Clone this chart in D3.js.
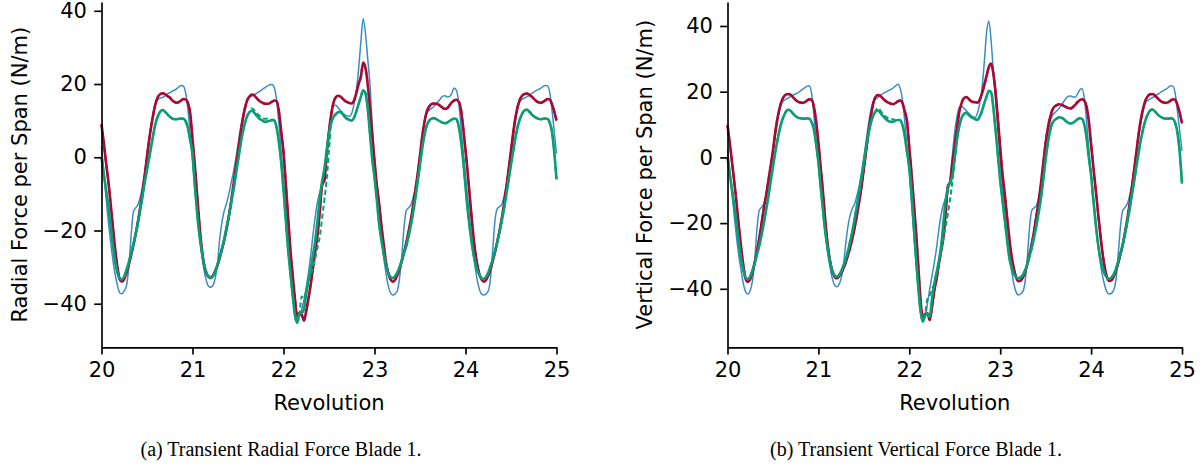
<!DOCTYPE html>
<html>
<head>
<meta charset="utf-8">
<script src="https://cdn.jsdelivr.net/npm/d3@7"></script>
<style>
  html, body { margin: 0; padding: 0; background: #ffffff; }
  svg { display: block; }
</style>
</head>
<body>
<svg id="fig" width="1203" height="466"></svg>
<script>
// ---------------- DATA ----------------
// samples every 0.025 revolution from 20 to 25 (201 samples)
const revStart = 20;
const revStep = 0.025;
const xTicks = [20, 21, 22, 23, 24, 25];
const yTicks = [-40, -20, 0, 20, 40];

// (a) Radial force per span (N/m)
const radialBlue = [
  3.0, -4.0, -11.0, -17.5, -23.0, -28.0, -32.0, -35.0, -37.0, -37.3, -36.5, -35.0, -30.0, -21.5, -15.0, -13.8, -13.0, -11.0, -8.0, -4.0, 0.5, 5.0, 9.5, 13.0, 15.2, 15.9, 16.2, 16.4, 16.8, 17.3, 17.6, 18.0, 18.3, 18.7, 19.2, 19.6, 19.4, 17.5, 13.0, 6.0,
  -1.0, -8.0, -14.5, -20.5, -26.0, -30.5, -33.5, -35.2, -35.5, -35.0, -33.0, -29.0, -22.0, -17.5, -14.5, -12.5, -10.0, -7.0, -4.0, -0.5, 3.5, 7.5, 11.0, 13.8, 15.5, 16.3, 16.8, 17.1, 17.4, 17.8, 18.2, 18.7, 19.1, 19.5, 19.8, 19.9, 18.9, 15.5, 9.0, 1.5,
  -6.0, -13.0, -21.0, -29.0, -36.0, -41.5, -44.5, -43.5, -41.5, -39.0, -35.5, -31.5, -26.5, -21.0, -16.0, -12.0, -9.5, -8.0, -5.0, 1.5, 8.0, 12.0, 14.0, 14.2, 13.5, 12.8, 12.1, 11.6, 11.3, 11.2, 12.0, 14.5, 18.0, 24.0, 31.5, 37.8, 34.0, 27.0, 20.0, 9.0,
  -1.0, -8.0, -14.5, -21.0, -27.0, -31.5, -35.0, -37.0, -37.6, -37.3, -36.5, -33.0, -27.0, -19.0, -14.5, -13.8, -13.0, -11.0, -8.0, -4.0, 1.0, 5.5, 9.5, 12.0, 12.8, 13.3, 13.8, 14.5, 15.2, 16.0, 16.7, 16.8, 16.5, 16.6, 17.5, 18.9, 18.3, 15.0, 8.5, 1.5,
  -5.0, -11.5, -18.0, -24.0, -29.0, -33.0, -35.8, -37.3, -37.6, -37.3, -36.5, -33.0, -25.0, -17.0, -14.0, -13.5, -12.8, -10.5, -7.5, -3.5, 1.0, 5.5, 10.0, 13.5, 15.3, 15.9, 16.2, 16.5, 16.9, 17.4, 17.8, 18.2, 18.5, 18.8, 19.3, 19.6, 19.5, 17.8, 13.0, 7.0,
  1.0
];
const radialRed = [
  9.0, 4.0, -1.5, -6.5, -12.5, -19.0, -25.0, -30.0, -33.3, -34.0, -33.2, -31.5, -29.3, -26.8, -24.0, -21.0, -17.6, -13.8, -9.5, -5.0, 0.2, 5.0, 9.0, 12.5, 15.2, 16.7, 17.3, 17.5, 17.2, 16.7, 16.3, 15.6, 15.1, 14.9, 15.1, 15.5, 15.9, 15.8, 14.8, 12.0,
  5.0, -2.0, -10.0, -18.0, -24.5, -29.0, -31.5, -32.6, -32.8, -32.3, -31.0, -29.5, -27.3, -25.0, -22.5, -19.5, -16.0, -12.0, -7.5, -3.0, 1.5, 6.0, 10.0, 13.2, 15.5, 16.6, 17.0, 16.9, 16.3, 15.6, 15.1, 14.8, 14.6, 14.6, 14.8, 15.2, 15.5, 15.3, 12.5, 7.0,
  1.5, -7.0, -16.0, -25.0, -32.0, -38.5, -43.5, -42.5, -43.0, -44.6, -42.0, -38.5, -34.5, -30.0, -25.5, -21.0, -14.5, -7.5, -6.3, 1.0, 7.0, 11.8, 15.0, 16.4, 16.8, 16.6, 16.0, 15.4, 15.1, 14.8, 14.7, 15.5, 17.5, 20.0, 22.0, 25.8, 24.5, 20.0, 13.5, 6.0,
  -1.0, -7.5, -12.5, -18.5, -23.5, -28.5, -31.5, -33.3, -34.0, -33.5, -32.3, -30.5, -28.3, -26.0, -23.3, -20.3, -17.0, -13.2, -9.0, -4.5, 0.5, 5.8, 9.8, 12.5, 13.8, 14.5, 14.7, 14.6, 14.4, 14.0, 13.5, 13.2, 13.4, 14.2, 15.0, 15.5, 15.7, 15.2, 13.0, 8.0,
  2.0, -4.5, -11.5, -18.5, -24.4, -28.8, -31.7, -33.3, -34.0, -33.5, -32.3, -30.5, -28.3, -25.8, -23.0, -20.0, -16.5, -12.5, -8.0, -3.2, 1.8, 6.8, 11.0, 14.0, 15.9, 16.9, 17.3, 17.4, 17.1, 16.6, 16.0, 15.4, 15.0, 14.9, 15.1, 15.5, 15.9, 15.8, 14.5, 12.5,
  10.0
];
const radialRedDashed = [
  9.0, 4.0, -1.5, -6.5, -12.5, -19.0, -25.0, -30.0, -33.3, -34.0, -33.2, -31.5, -29.3, -26.8, -24.0, -21.0, -17.6, -13.8, -9.5, -5.0, 0.2, 5.0, 9.0, 12.5, 15.2, 16.7, 17.3, 17.5, 17.2, 16.7, 16.3, 15.6, 15.1, 14.9, 15.1, 15.5, 15.9, 15.8, 14.8, 12.0,
  5.0, -2.0, -10.0, -18.0, -24.5, -29.0, -31.5, -32.6, -32.8, -32.3, -31.0, -29.5, -27.3, -25.0, -22.5, -19.5, -16.0, -12.0, -7.5, -3.0, 1.5, 6.0, 10.0, 13.2, 15.5, 16.6, 17.2, 17.1, 16.3, 15.6, 15.1, 14.8, 14.6, 14.6, 14.8, 15.2, 15.5, 15.3, 12.5, 7.0,
  1.5, -7.0, -16.0, -25.0, -32.0, -38.5, -43.5, -42.0, -43.0, -44.6, -42.0, -38.5, -34.5, -30.0, -25.5, -21.0, -14.5, -7.5, -6.3, 1.0, 7.0, 11.8, 15.0, 16.4, 16.8, 16.6, 16.0, 15.4, 15.1, 14.8, 14.7, 15.5, 17.5, 20.0, 22.0, 25.8, 24.5, 20.0, 13.5, 6.0,
  -1.0, -7.5, -12.5, -18.5, -23.5, -28.5, -31.5, -33.3, -34.0, -33.5, -32.3, -30.5, -28.3, -26.0, -23.3, -20.3, -17.0, -13.2, -9.0, -4.5, 0.5, 5.8, 9.8, 12.5, 13.8, 14.5, 14.7, 14.6, 14.4, 14.0, 13.5, 13.2, 13.4, 14.2, 15.0, 15.5, 15.7, 15.2, 13.0, 8.0,
  2.0, -4.5, -11.5, -18.5, -24.4, -28.8, -31.7, -33.3, -34.0, -33.5, -32.3, -30.5, -28.3, -25.8, -23.0, -20.0, -16.5, -12.5, -8.0, -3.2, 1.8, 6.8, 11.0, 14.0, 15.9, 16.9, 17.3, 17.4, 17.1, 16.6, 16.0, 15.4, 15.0, 14.9, 15.1, 15.5, 15.9, 15.8, 14.5, 12.5,
  10.0
];
const radialGreen = [
  0.0, -4.5, -9.0, -13.5, -18.5, -24.0, -28.5, -31.5, -33.1, -33.3, -32.5, -30.7, -28.7, -26.3, -23.8, -21.0, -18.0, -14.5, -10.8, -6.8, -3.5, 0.0, 3.5, 7.0, 9.8, 11.5, 12.6, 12.9, 12.4, 11.7, 11.1, 10.6, 10.4, 10.4, 10.5, 10.6, 10.5, 9.8, 8.0, 4.5,
  1.0, -7.5, -15.0, -21.0, -25.5, -29.0, -31.3, -32.6, -33.0, -32.5, -31.2, -29.3, -27.3, -24.8, -22.2, -19.0, -16.0, -12.5, -9.0, -5.0, -1.0, 3.0, 6.5, 9.2, 11.2, 12.3, 12.7, 12.3, 11.5, 10.8, 10.3, 9.9, 9.7, 9.8, 10.0, 10.2, 10.0, 8.0, 4.0, -1.5,
  -9.0, -17.0, -25.0, -31.5, -37.5, -43.0, -45.2, -42.5, -42.5, -41.5, -37.2, -33.5, -30.5, -26.5, -22.5, -17.0, -11.0, -6.5, -3.0, 2.0, 6.5, 9.5, 11.0, 11.8, 12.3, 12.4, 11.8, 11.0, 10.5, 10.2, 10.0, 10.8, 12.5, 14.5, 16.5, 18.3, 17.5, 13.5, 6.5, -0.5,
  -5.5, -11.5, -18.0, -22.5, -26.2, -29.3, -31.5, -32.7, -33.0, -32.5, -31.5, -30.0, -28.2, -26.0, -24.2, -21.5, -18.5, -15.0, -11.0, -6.5, -2.0, 2.5, 6.2, 8.7, 10.0, 10.5, 10.7, 10.5, 10.1, 9.7, 9.4, 9.3, 9.5, 9.9, 10.3, 10.6, 10.4, 8.5, 4.5, -1.0,
  -8.0, -14.5, -20.0, -24.5, -28.0, -30.5, -32.0, -33.0, -33.2, -32.7, -31.5, -29.7, -27.8, -25.5, -23.0, -20.2, -17.2, -13.8, -10.0, -6.0, -2.0, 1.8, 5.5, 8.5, 10.6, 12.0, 12.8, 13.0, 12.5, 11.8, 11.2, 10.8, 10.5, 10.4, 10.5, 10.6, 10.5, 9.5, 7.0, 1.5,
  -6.0
];
const radialGreenDashed = [
  0.0, -4.5, -9.0, -13.5, -18.5, -24.0, -28.5, -31.5, -33.1, -33.3, -32.5, -30.7, -28.7, -26.3, -23.8, -21.0, -18.0, -14.5, -10.8, -6.8, -3.5, 0.0, 3.5, 7.0, 9.8, 11.5, 12.6, 12.9, 12.4, 11.7, 11.1, 10.6, 10.4, 10.4, 10.5, 10.6, 10.5, 9.8, 8.0, 4.5,
  1.0, -7.5, -15.0, -21.0, -25.5, -29.0, -31.3, -32.6, -33.0, -32.5, -31.2, -29.3, -27.3, -24.8, -22.2, -19.0, -16.0, -12.5, -9.0, -5.0, -1.0, 3.0, 6.5, 9.2, 11.2, 12.3, 13.3, 13.0, 12.3, 11.6, 11.0, 10.6, 10.5, 10.5, 10.0, 10.2, 10.0, 8.0, 4.0, -1.5,
  -9.0, -17.0, -25.0, -31.5, -37.5, -43.0, -45.2, -43.0, -38.0, -38.5, -36.5, -34.0, -32.0, -30.0, -27.5, -24.5, -21.5, -16.5, -11.5, -6.0, 2.0, 9.5, 11.0, 11.8, 12.3, 12.4, 11.8, 11.0, 10.5, 10.2, 10.0, 10.8, 12.5, 14.5, 16.5, 18.3, 17.5, 13.5, 6.5, -0.5,
  -5.5, -11.5, -18.0, -22.5, -26.2, -29.3, -31.5, -32.7, -33.0, -32.5, -31.5, -30.0, -28.2, -26.0, -24.2, -21.5, -18.5, -15.0, -11.0, -6.5, -2.0, 2.5, 6.2, 8.7, 10.0, 10.5, 10.7, 10.5, 10.1, 9.7, 9.4, 9.3, 9.5, 9.9, 10.3, 10.6, 10.4, 8.5, 4.5, -1.0,
  -8.0, -14.5, -20.0, -24.5, -28.0, -30.5, -32.0, -33.0, -33.2, -32.7, -31.5, -29.7, -27.8, -25.5, -23.0, -20.2, -17.2, -13.8, -10.0, -6.0, -2.0, 1.8, 5.5, 8.5, 10.6, 12.0, 12.8, 13.0, 12.5, 11.8, 11.2, 10.8, 10.5, 10.4, 10.5, 10.6, 10.5, 9.5, 7.0, 1.5,
  -6.0
];

// (b) Vertical force per span (N/m)
const verticalBlue = [
  2.5, -4.0, -11.0, -18.0, -24.5, -30.0, -34.5, -38.5, -41.0, -41.6, -40.5, -37.5, -31.0, -21.5, -16.0, -15.2, -14.0, -11.5, -8.0, -3.5, 1.5, 6.5, 11.0, 14.5, 16.7, 17.4, 17.8, 18.2, 18.6, 19.0, 19.3, 19.7, 20.2, 20.7, 21.2, 21.7, 21.8, 19.5, 13.0, 5.0,
  -2.0, -9.0, -16.0, -22.5, -28.5, -33.0, -36.5, -38.7, -39.4, -38.8, -36.8, -33.0, -26.5, -21.0, -17.5, -15.5, -14.0, -11.5, -8.5, -4.5, 0.0, 5.0, 10.0, 14.0, 16.8, 17.6, 18.2, 18.7, 19.2, 19.7, 20.0, 20.4, 20.7, 21.2, 21.8, 22.3, 21.0, 17.5, 11.0, 3.0,
  -5.0, -14.0, -23.5, -32.5, -40.0, -46.5, -49.5, -48.5, -44.5, -40.0, -36.0, -32.0, -27.5, -22.0, -17.5, -14.3, -12.5, -10.5, -6.0, 1.0, 8.0, 12.5, 15.2, 15.6, 15.0, 14.3, 13.5, 12.8, 12.3, 12.2, 13.5, 16.5, 21.0, 29.0, 38.0, 41.5, 35.5, 26.0, 17.5, 8.0,
  -1.0, -9.0, -16.5, -23.5, -29.5, -34.5, -38.5, -41.0, -41.9, -41.5, -40.8, -37.5, -30.0, -20.5, -16.0, -15.3, -14.5, -12.0, -8.0, -3.0, 2.5, 7.5, 11.0, 12.8, 13.6, 14.3, 15.0, 16.0, 17.0, 18.0, 18.6, 18.7, 18.4, 18.4, 19.3, 20.5, 21.0, 18.0, 11.0, 2.5,
  -5.0, -12.5, -20.0, -26.5, -32.0, -36.0, -39.0, -41.0, -41.6, -41.3, -40.3, -37.0, -29.0, -20.5, -16.0, -15.2, -14.0, -11.5, -8.0, -3.5, 1.5, 6.5, 11.0, 14.5, 16.7, 17.4, 17.8, 18.2, 18.6, 19.1, 19.5, 20.0, 20.4, 20.8, 21.3, 21.8, 21.7, 19.5, 14.0, 8.0,
  2.0
];
const verticalRed = [
  9.8, 4.5, -1.5, -7.5, -14.0, -21.0, -27.5, -33.0, -37.0, -37.9, -37.0, -35.0, -32.0, -28.5, -24.5, -20.0, -15.5, -11.5, -7.0, -2.5, 2.0, 7.5, 12.0, 15.2, 17.5, 18.7, 19.2, 19.3, 18.9, 18.2, 17.5, 17.0, 16.7, 16.6, 16.8, 17.3, 17.7, 17.5, 15.5, 11.0,
  4.5, -3.0, -10.5, -19.0, -26.0, -31.0, -34.3, -36.2, -36.8, -36.3, -35.2, -33.8, -32.0, -29.8, -27.3, -24.5, -21.2, -17.5, -13.3, -8.7, -3.5, 2.0, 7.3, 12.0, 16.0, 18.3, 18.9, 18.8, 18.2, 17.5, 17.0, 16.6, 16.3, 16.2, 16.6, 17.1, 17.3, 16.5, 14.0, 11.0,
  3.0, -5.0, -14.0, -23.0, -33.5, -44.0, -48.5, -48.0, -47.5, -49.5, -45.5, -40.5, -37.0, -32.5, -28.5, -24.0, -17.0, -8.7, -7.5, -1.5, 3.5, 8.8, 13.8, 16.5, 18.0, 18.4, 17.9, 17.2, 16.9, 16.8, 16.7, 17.6, 19.5, 22.0, 24.8, 27.5, 28.6, 25.5, 19.5, 11.5,
  3.0, -5.0, -11.0, -18.0, -24.5, -30.0, -33.8, -36.5, -37.7, -37.5, -36.5, -34.8, -32.3, -29.2, -26.0, -22.0, -17.5, -13.0, -7.5, -1.5, 4.5, 9.0, 12.3, 14.5, 15.5, 16.0, 16.2, 16.0, 15.7, 15.3, 15.0, 14.9, 15.3, 16.0, 16.8, 17.4, 17.7, 17.3, 15.5, 11.0,
  4.0, -3.0, -9.5, -16.5, -23.0, -29.0, -33.5, -36.5, -37.6, -37.3, -36.2, -34.3, -32.0, -29.3, -26.3, -22.5, -18.5, -14.0, -9.0, -3.5, 2.0, 7.5, 12.0, 15.2, 17.5, 18.7, 19.2, 19.3, 18.9, 18.2, 17.5, 17.0, 16.7, 16.6, 16.8, 17.3, 17.7, 17.5, 16.0, 13.5,
  10.4
];
const verticalRedDashed = [
  9.8, 4.5, -1.5, -7.5, -14.0, -21.0, -27.5, -33.0, -37.0, -37.9, -37.0, -35.0, -32.0, -28.5, -24.5, -20.0, -15.5, -11.5, -7.0, -2.5, 2.0, 7.5, 12.0, 15.2, 17.5, 18.7, 19.2, 19.3, 18.9, 18.2, 17.5, 17.0, 16.7, 16.6, 16.8, 17.3, 17.7, 17.5, 15.5, 11.0,
  4.5, -3.0, -10.5, -19.0, -26.0, -31.0, -34.3, -36.2, -36.8, -36.3, -35.2, -33.8, -32.0, -29.8, -27.3, -24.5, -21.2, -17.5, -13.3, -8.7, -3.5, 2.0, 7.3, 12.0, 16.0, 18.3, 19.1, 18.9, 18.2, 17.5, 17.0, 16.6, 16.3, 16.2, 16.6, 17.1, 17.3, 16.5, 14.0, 11.0,
  3.0, -5.0, -14.0, -23.0, -33.5, -44.0, -48.5, -47.5, -47.5, -49.5, -45.5, -40.5, -37.0, -32.5, -28.5, -24.0, -17.0, -8.7, -7.5, -1.5, 3.5, 8.8, 13.8, 16.5, 18.0, 18.4, 17.9, 17.2, 16.9, 16.8, 16.7, 17.6, 19.5, 22.0, 24.8, 27.5, 28.6, 25.5, 19.5, 11.5,
  3.0, -5.0, -11.0, -18.0, -24.5, -30.0, -33.8, -36.5, -37.7, -37.5, -36.5, -34.8, -32.3, -29.2, -26.0, -22.0, -17.5, -13.0, -7.5, -1.5, 4.5, 9.0, 12.3, 14.5, 15.5, 16.0, 16.2, 16.0, 15.7, 15.3, 15.0, 14.9, 15.3, 16.0, 16.8, 17.4, 17.7, 17.3, 15.5, 11.0,
  4.0, -3.0, -9.5, -16.5, -23.0, -29.0, -33.5, -36.5, -37.6, -37.3, -36.2, -34.3, -32.0, -29.3, -26.3, -22.5, -18.5, -14.0, -9.0, -3.5, 2.0, 7.5, 12.0, 15.2, 17.5, 18.7, 19.2, 19.3, 18.9, 18.2, 17.5, 17.0, 16.7, 16.6, 16.8, 17.3, 17.7, 17.5, 16.0, 13.5,
  10.4
];
const verticalGreen = [
  0.0, -5.0, -10.0, -15.0, -20.5, -26.0, -31.0, -34.5, -36.7, -37.0, -36.2, -34.3, -32.0, -29.5, -26.8, -23.5, -20.0, -16.0, -11.8, -7.3, -2.8, 1.5, 5.3, 8.6, 11.2, 13.0, 14.2, 14.5, 14.0, 13.2, 12.5, 12.1, 11.9, 11.8, 11.8, 11.9, 11.8, 10.8, 8.5, 4.0,
  -1.5, -9.0, -16.0, -22.5, -27.5, -31.5, -34.3, -35.8, -36.3, -35.9, -34.7, -33.0, -31.0, -28.5, -25.5, -22.3, -18.5, -14.5, -10.3, -6.0, -1.5, 3.0, 7.0, 10.3, 12.5, 13.8, 14.3, 13.8, 12.9, 12.1, 11.5, 11.0, 10.8, 10.9, 11.2, 11.4, 11.4, 9.8, 6.5, 1.5,
  -3.0, -11.0, -21.0, -31.0, -40.0, -47.0, -50.0, -48.0, -47.5, -48.5, -43.0, -38.5, -35.0, -31.5, -27.0, -20.0, -13.0, -9.3, -7.5, -5.5, 0.0, 5.5, 9.5, 12.0, 13.2, 13.6, 13.0, 12.4, 12.0, 11.6, 11.4, 12.4, 14.2, 16.5, 18.5, 20.3, 19.8, 15.0, 8.0, 0.5,
  -7.0, -13.0, -19.0, -25.0, -30.5, -33.5, -35.5, -36.5, -36.8, -36.5, -35.7, -34.3, -32.3, -29.8, -27.2, -24.0, -20.5, -16.5, -12.0, -6.5, -0.5, 4.5, 8.3, 10.5, 11.4, 11.9, 12.2, 12.1, 11.6, 11.0, 10.5, 10.3, 10.5, 11.0, 11.6, 11.9, 11.7, 10.0, 6.0, 0.0,
  -5.5, -13.0, -20.0, -26.0, -30.5, -33.5, -35.5, -36.6, -37.0, -36.5, -35.5, -33.8, -31.5, -29.0, -26.2, -23.0, -19.5, -15.5, -11.3, -7.0, -2.5, 1.8, 5.7, 9.0, 11.5, 13.2, 14.3, 14.6, 14.1, 13.3, 12.6, 12.2, 11.9, 11.8, 11.8, 11.9, 11.7, 10.5, 7.5, 1.5,
  -8.0
];
const verticalGreenDashed = [
  0.0, -5.0, -10.0, -15.0, -20.5, -26.0, -31.0, -34.5, -36.7, -37.0, -36.2, -34.3, -32.0, -29.5, -26.8, -23.5, -20.0, -16.0, -11.8, -7.3, -2.8, 1.5, 5.3, 8.6, 11.2, 13.0, 14.2, 14.5, 14.0, 13.2, 12.5, 12.1, 11.9, 11.8, 11.8, 11.9, 11.8, 10.8, 8.5, 4.0,
  -1.5, -9.0, -16.0, -22.5, -27.5, -31.5, -34.3, -35.8, -36.3, -35.9, -34.7, -33.0, -31.0, -28.5, -25.5, -22.3, -18.5, -14.5, -10.3, -6.0, -1.5, 3.0, 7.0, 10.3, 12.5, 13.8, 15.0, 14.5, 13.6, 12.8, 12.2, 11.8, 11.6, 11.6, 11.2, 11.4, 11.4, 9.8, 6.5, 1.5,
  -3.0, -11.0, -21.0, -31.0, -40.0, -47.0, -50.0, -47.5, -43.0, -42.0, -40.0, -38.5, -35.5, -32.3, -29.0, -25.2, -21.0, -17.0, -12.5, -7.0, -1.0, 5.5, 9.5, 12.0, 13.2, 13.6, 13.0, 12.4, 12.0, 11.6, 11.4, 12.4, 14.2, 16.5, 18.5, 20.3, 19.8, 15.0, 8.0, 0.5,
  -7.0, -13.0, -19.0, -25.0, -30.5, -33.5, -35.5, -36.5, -36.8, -36.5, -35.7, -34.3, -32.3, -29.8, -27.2, -24.0, -20.5, -16.5, -12.0, -6.5, -0.5, 4.5, 8.3, 10.5, 11.4, 11.9, 12.2, 12.1, 11.6, 11.0, 10.5, 10.3, 10.5, 11.0, 11.6, 11.9, 11.7, 10.0, 6.0, 0.0,
  -5.5, -13.0, -20.0, -26.0, -30.5, -33.5, -35.5, -36.6, -37.0, -36.5, -35.5, -33.8, -31.5, -29.0, -26.2, -23.0, -19.5, -15.5, -11.3, -7.0, -2.5, 1.8, 5.7, 9.0, 11.5, 13.2, 14.3, 14.6, 14.1, 13.3, 12.6, 12.2, 11.9, 11.8, 11.8, 11.9, 11.7, 10.5, 7.5, 1.5,
  -8.0
];

// ---------------- STYLE ----------------
const colors = { blue: "#3a8cc7", red: "#a80a32", green: "#0a9e74" };
const sansFont = "'DejaVu Sans', sans-serif";
const serifFont = "'Liberation Serif', 'Times New Roman', serif";
const fontSize = 21;
const spineWidth = 1.67;
const tickLen = 7.3;
const tickPad = 7.3;

const svg = d3.select("#fig");

function drawPanel(cfg) {
  const g = svg.append("g");
  const x = d3.scaleLinear().domain([20, 25]).range([cfg.left, cfg.right]);
  const y = d3.scaleLinear().domain(cfg.yDomain).range([cfg.bottom, cfg.top]);

  const line = d3.line()
    .x((d, i) => x(revStart + i * revStep))
    .y(d => y(d))
    .curve(d3.curveMonotoneX);

  cfg.series.forEach(s => {
    g.append("path")
      .attr("d", line(s.values))
      .attr("fill", "none")
      .attr("stroke", s.color)
      .attr("stroke-width", s.width)
      .attr("stroke-linejoin", "round")
      .attr("stroke-dasharray", s.dash || null);
  });

  const xAxis = d3.axisBottom(x).tickValues(xTicks).tickSize(tickLen).tickSizeOuter(0)
    .tickPadding(tickPad).tickFormat(d3.format("d"));
  const yAxis = d3.axisLeft(y).tickValues(yTicks).tickSize(tickLen).tickSizeOuter(0)
    .tickPadding(tickPad).tickFormat(d3.format("d"));

  const gx = g.append("g").attr("transform", `translate(0,${cfg.bottom})`).call(xAxis);
  const gy = g.append("g").attr("transform", `translate(${cfg.left},0)`).call(yAxis);
  [gx, gy].forEach(a => {
    a.attr("font-family", sansFont).attr("font-size", fontSize);
    a.select(".domain").attr("stroke", "#000").attr("stroke-width", spineWidth);
    a.selectAll(".tick line").attr("stroke", "#000").attr("stroke-width", spineWidth);
    a.selectAll(".tick text").attr("fill", "#000");
  });

  g.append("text")
    .attr("x", (cfg.left + cfg.right) / 2)
    .attr("y", cfg.xLabelY)
    .attr("text-anchor", "middle")
    .attr("font-family", sansFont)
    .attr("font-size", fontSize)
    .attr("fill", "#000")
    .text("Revolution");

  g.append("text")
    .attr("transform", `translate(${cfg.yLabelX},${(cfg.top + cfg.bottom) / 2}) rotate(-90)`)
    .attr("text-anchor", "middle")
    .attr("font-family", sansFont)
    .attr("font-size", fontSize)
    .attr("fill", "#000")
    .text(cfg.yLabel);

  g.append("text")
    .attr("x", cfg.captionX)
    .attr("y", cfg.captionY)
    .attr("text-anchor", "middle")
    .attr("font-family", serifFont)
    .attr("font-size", 20)
    .attr("fill", "#000")
    .text(cfg.caption);
}

function seriesSet(blue, red, redDashed, green, greenDashed) {
  return [
    { values: blue, color: colors.blue, width: 1.5 },
    { values: red, color: colors.red, width: 2.6 },
    { values: redDashed, color: colors.red, width: 2.0, dash: "5,3" },
    { values: green, color: colors.green, width: 2.6 },
    { values: greenDashed, color: colors.green, width: 2.0, dash: "5,3" }
  ];
}

drawPanel({
  left: 101.5, right: 556.5, top: 2, bottom: 347.3,
  yDomain: [-51.9, 42.4],
  xLabelY: 410, yLabelX: 27,
  yLabel: "Radial Force per Span (N/m)",
  caption: "(a) Transient Radial Force Blade 1.",
  captionX: 281, captionY: 456,
  series: seriesSet(radialBlue, radialRed, radialRedDashed, radialGreen, radialGreenDashed)
});

drawPanel({
  left: 727.5, right: 1182, top: 2, bottom: 347.3,
  yDomain: [-57.8, 47.3],
  xLabelY: 410, yLabelX: 652,
  yLabel: "Vertical Force per Span (N/m)",
  caption: "(b) Transient Vertical Force Blade 1.",
  captionX: 916, captionY: 456,
  series: seriesSet(verticalBlue, verticalRed, verticalRedDashed, verticalGreen, verticalGreenDashed)
});
</script>
</body>
</html>
